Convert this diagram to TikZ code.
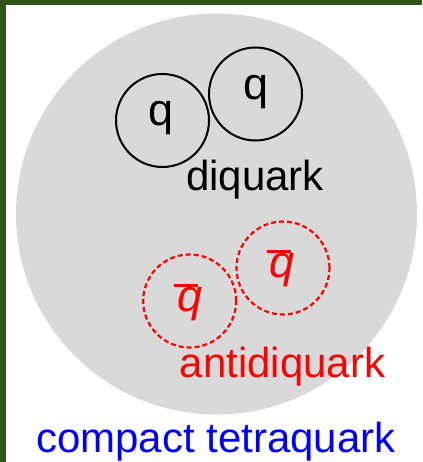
\documentclass[tikz,border=0pt]{standalone}
\usepackage{fontspec}
\setmainfont{Liberation Sans}
\definecolor{frame}{HTML}{30541A}
\definecolor{blobgray}{HTML}{D9D9D9}
\newcommand{\qbarsym}{\makebox[0pt][l]{\hspace{-3pt}\raisebox{24.5pt}{\rule{24pt}{3pt}}}\textit{q}}
\begin{document}
\begin{tikzpicture}[x=1pt,y=-1pt,
  quark/.style={circle,draw=black,line width=2pt,minimum size=93pt,inner sep=0pt},
  antiquark/.style={circle,draw=red,dash pattern=on 5pt off 3pt,line width=2.2pt,minimum size=93pt,inner sep=0pt},
  lbl/.style={anchor=base,inner sep=0pt,font=\fontsize{42}{50}\selectfont},
  qlbl/.style={anchor=base,inner sep=0pt,font=\fontsize{45}{53}\selectfont}]
\useasboundingbox (0,0) rectangle (422,462);
\fill[white] (0,0) rectangle (422,462);
\fill[frame] (0,0) rectangle (422,5);
\fill[frame] (0,0) rectangle (6,462);
\fill[blobgray] (216.5,214) circle (200.5);
\node[quark] (q1) at (162.5,120.5) {};
\node[quark] (q2) at (255.5,94) {};
\node[qlbl] (tq1) at (161,126) {q};
\node[qlbl] (tq2) at (256,99.5) {q};
\node[lbl] (diq) at (255,190) {diquark};
\node[antiquark] (a1) at (189.7,301) {};
\node[antiquark] (a2) at (283,268) {};
\node[qlbl,text=red] (ta1) at (189.7,311) {\qbarsym};
\node[qlbl,text=red] (ta2) at (282.5,277.5) {\qbarsym};
\node[lbl,text=red] (adiq) at (282.5,377) {antidiquark};
\node[lbl,text=blue] (tetra) at (216,452) {compact tetraquark};
\end{tikzpicture}
\end{document}
